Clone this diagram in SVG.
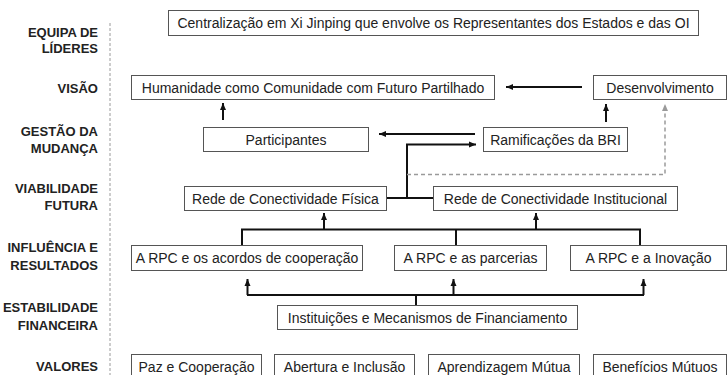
<svg xmlns="http://www.w3.org/2000/svg" width="728" height="375" viewBox="0 0 728 375">
<defs>
<style>
.lbl{font-family:"Liberation Sans",Arial,sans-serif;font-size:13px;font-weight:bold;fill:#222;text-anchor:end}
.box rect{fill:#fff;stroke:#555;stroke-width:1}
.box text{font-family:"Liberation Sans",Arial,sans-serif;font-size:14px;fill:#222;text-anchor:middle}
.ln{fill:none;stroke:#111;stroke-width:2}
.ar{fill:none;stroke:#111;stroke-width:2;marker-end:url(#ah)}
.dash{fill:none;stroke:#9a9a9a;stroke-width:1.5;stroke-dasharray:4 3;marker-end:url(#ahg)}
</style>
<marker id="ah" markerUnits="userSpaceOnUse" markerWidth="8" markerHeight="8" viewBox="0 0 8 8" refX="7" refY="4" orient="auto"><path d="M0,1 L7,4 L0,7 Z" fill="#111"/></marker>
<marker id="ahg" markerUnits="userSpaceOnUse" markerWidth="8" markerHeight="8" viewBox="0 0 8 8" refX="7" refY="4" orient="auto"><path d="M0,1 L7,4 L0,7 Z" fill="#9a9a9a"/></marker>
</defs>
<rect width="728" height="375" fill="#fff"/>
<g id="labels">
<text class="lbl" x="98" y="36.5">EQUIPA DE</text>
<text class="lbl" x="98" y="53">LÍDERES</text>
<text class="lbl" x="98" y="92.5">VISÃO</text>
<text class="lbl" x="98" y="136">GESTÃO DA</text>
<text class="lbl" x="98" y="153">MUDANÇA</text>
<text class="lbl" x="98" y="192.5">VIABILIDADE</text>
<text class="lbl" x="98" y="210">FUTURA</text>
<text class="lbl" x="98" y="252">INFLUÊNCIA E</text>
<text class="lbl" x="98" y="270">RESULTADOS</text>
<text class="lbl" x="98" y="312">ESTABILIDADE</text>
<text class="lbl" x="98" y="330">FINANCEIRA</text>
<text class="lbl" x="98" y="371">VALORES</text>
<line x1="110" y1="23" x2="110" y2="375" stroke="#9a9a9a" stroke-width="1" stroke-dasharray="3 2"/>
</g>
<g id="connectors">
<line class="ar" x1="582" y1="87" x2="506" y2="87"/>
<line class="ar" x1="223" y1="120" x2="223" y2="103"/>
<line class="ar" x1="606" y1="122" x2="606" y2="104"/>
<line class="ar" x1="475" y1="134" x2="379" y2="134"/>
<path class="ln" d="M386,198 H433"/>
<path class="ar" d="M407,198 V144.5 H476"/>
<path class="dash" d="M407,174.5 H665 V104"/>
<path class="ln" d="M242,245 V229.5 H640 V245 M456,229.5 V245"/>
<line class="ar" x1="324" y1="229.5" x2="324" y2="213"/>
<line class="ar" x1="536" y1="229.5" x2="536" y2="213"/>
<path class="ln" d="M416,305 V295 M247,295 H644"/>
<line class="ar" x1="247.5" y1="295" x2="247.5" y2="279"/>
<line class="ar" x1="453.5" y1="295" x2="453.5" y2="279"/>
<line class="ar" x1="643.5" y1="295" x2="643.5" y2="279"/>
</g>
<g id="n-centralizacao" class="box"><rect x="168.5" y="10.5" width="530" height="25"/><text x="433.5" y="28">Centralização em Xi Jinping que envolve os Representantes dos Estados e das OI</text></g>
<g id="n-humanidade" class="box"><rect x="131.5" y="75.5" width="363" height="24"/><text x="313" y="92.5">Humanidade como Comunidade com Futuro Partilhado</text></g>
<g id="n-desenvolvimento" class="box"><rect x="593.5" y="75.5" width="133" height="24"/><text x="660" y="92.5">Desenvolvimento</text></g>
<g id="n-participantes" class="box"><rect x="203.5" y="127.5" width="165" height="24"/><text x="286" y="144.5">Participantes</text></g>
<g id="n-ramificacoes" class="box"><rect x="483.5" y="127.5" width="144" height="24"/><text x="555.5" y="144.5">Ramificações da BRI</text></g>
<g id="n-fisica" class="box"><rect x="184.5" y="186.5" width="202" height="24"/><text x="285.5" y="203.5">Rede de Conectividade Física</text></g>
<g id="n-institucional" class="box"><rect x="433.5" y="186.5" width="244" height="24"/><text x="555.5" y="203.5">Rede de Conectividade Institucional</text></g>
<g id="n-acordos" class="box"><rect x="131.5" y="245.5" width="231" height="25"/><text x="247" y="263">A RPC e os acordos de cooperação</text></g>
<g id="n-parcerias" class="box"><rect x="394.5" y="245.5" width="152" height="25"/><text x="470.5" y="263">A RPC e as parcerias</text></g>
<g id="n-inovacao" class="box"><rect x="570.5" y="245.5" width="156" height="25"/><text x="648.5" y="263">A RPC e a Inovação</text></g>
<g id="n-instituicoes" class="box"><rect x="277.5" y="305.5" width="300" height="24"/><text x="427.5" y="322.5">Instituições e Mecanismos de Financiamento</text></g>
<g id="n-paz" class="box"><rect x="131.5" y="354.5" width="130" height="26"/><text x="196.5" y="372">Paz e Cooperação</text></g>
<g id="n-abertura" class="box"><rect x="274.5" y="354.5" width="140" height="26"/><text x="344.5" y="372">Abertura e Inclusão</text></g>
<g id="n-aprendizagem" class="box"><rect x="428.5" y="354.5" width="151" height="26"/><text x="504" y="372">Aprendizagem Mútua</text></g>
<g id="n-beneficios" class="box"><rect x="593.5" y="354.5" width="133" height="26"/><text x="660" y="372">Benefícios Mútuos</text></g>
</svg>
